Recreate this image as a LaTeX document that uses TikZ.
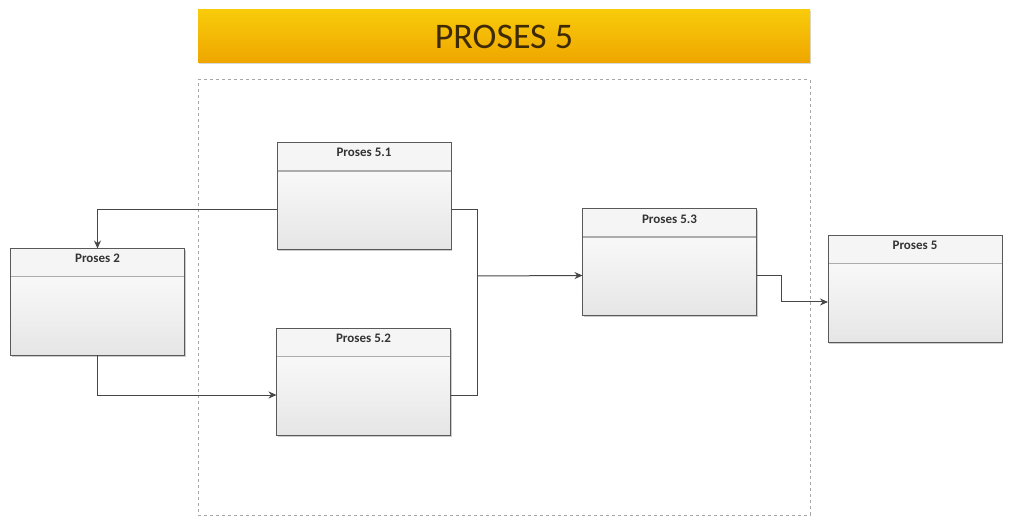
\documentclass[tikz,border=0pt]{standalone}
\usepackage{fontspec}
\setmainfont{Carlito}
\usepackage{xcolor}
\usetikzlibrary{arrows.meta,shadows}
\definecolor{gold1}{HTML}{F8CB0A}
\definecolor{gold2}{HTML}{EFA600}
\definecolor{judul}{HTML}{3E2A05}
\newcommand{\FH}{\fontsize{13}{15}\selectfont\bfseries}
\newcommand{\FT}{\fontsize{36}{40}\selectfont}

\begin{document}
\begin{tikzpicture}[x=1pt,y=-1pt]
\tikzstyle{banner}=[draw=none,top color=gold1,bottom color=gold2,minimum width=612pt,minimum height=53pt,
  inner sep=0pt,outer sep=0pt,text=judul,font=\FT,drop shadow={shadow xshift=1pt,shadow yshift=-1.5pt,opacity=0.3}]
\tikzstyle{kotak}=[draw=gray!70!black,line width=1pt,top color=white,bottom color=gray!20,
  minimum width=174pt,minimum height=107pt,inner sep=0pt,outer sep=0pt,
  drop shadow={shadow xshift=1pt,shadow yshift=-1.5pt,opacity=0.4},
  path picture={
    \fill[gray!8] (path picture bounding box.north west) rectangle ([yshift=-28pt]path picture bounding box.north east);
    \draw[gray!65,line width=1.8pt] ([yshift=-28pt]path picture bounding box.north west) -- ([yshift=-28pt]path picture bounding box.north east);
  }]
\tikzstyle{line}=[gray!55!black,line width=1pt]
\tikzstyle{conn}=[line,-{Stealth[length=8pt,width=7pt]}]

\useasboundingbox (0,0) rectangle (1009,518);

\node[banner] (judul) at (504,36.5) {PROSES 5};
\node[draw=gray!70,line width=1pt,dash pattern=on 3pt off 3pt,minimum width=612pt,minimum height=435pt,
  inner sep=0pt,outer sep=0pt] (frame) at (504,297.5) {};

\node[kotak,label={[font=\FH,anchor=north,yshift=-2pt,text=black!80]north:Proses 5.1}] (p51) at (364,196.5) {};
\node[kotak,label={[font=\FH,anchor=north,yshift=-2pt,text=black!80]north:Proses 2}]   (p2)  at (97.5,302) {};
\node[kotak,label={[font=\FH,anchor=north,yshift=-2pt,text=black!80]north:Proses 5.2}] (p52) at (363.5,382) {};
\node[kotak,label={[font=\FH,anchor=north,yshift=-2pt,text=black!80]north:Proses 5.3}] (p53) at (669.5,262.5) {};
\node[kotak,label={[font=\FH,anchor=north,yshift=-2pt,text=black!80]north:Proses 5}]   (p5)  at (915,289) {};

\coordinate (gabung) at (477,276);

\draw[conn] ([yshift=-13pt]p51.west) -| (p2.north);
\draw[conn] (p2.south) |- ([yshift=-13pt]p52.west);
\draw[line] ([yshift=-13pt]p51.east) -| (gabung);
\draw[line] ([yshift=-13pt]p52.east) -| (gabung);
\draw[conn] (gabung) -- ([yshift=-13pt]p53.west);
\draw[conn] ([yshift=-13pt]p53.east) -- ++(25,0) |- ([yshift=-13pt]p5.west);
\end{tikzpicture}
\end{document}
